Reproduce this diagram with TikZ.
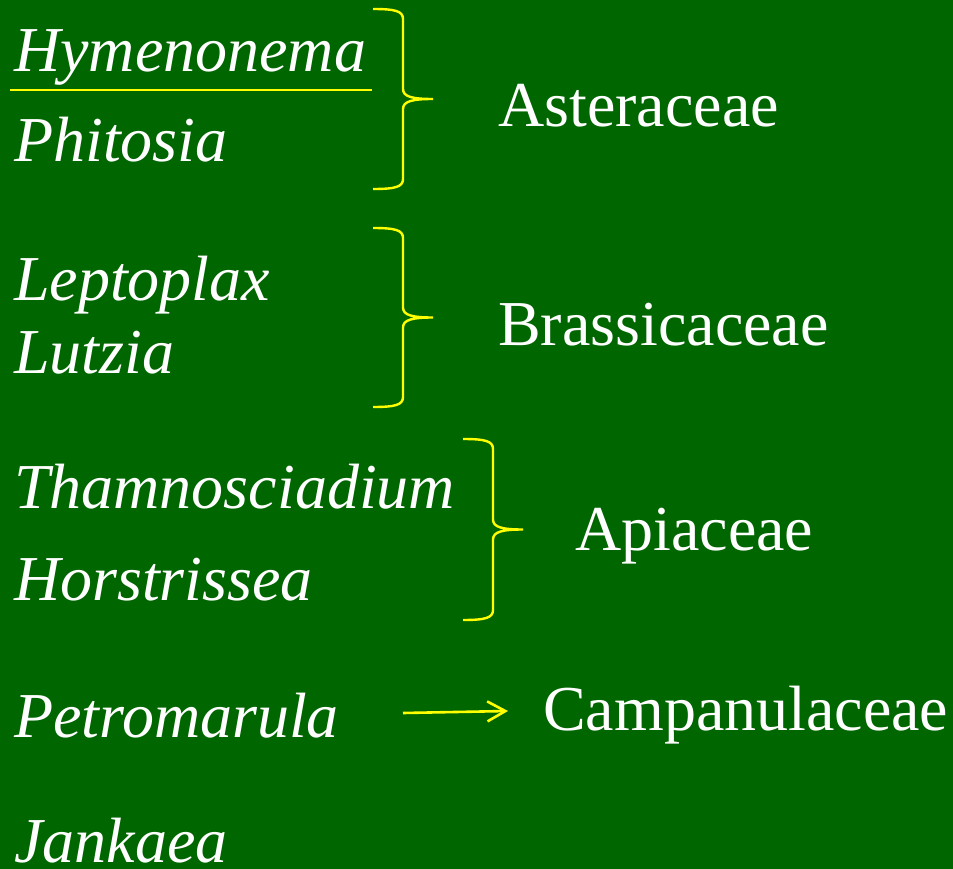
\documentclass[tikz,border=0pt]{standalone}
\usepackage{fontspec}
\setmainfont{Liberation Serif}
\usepackage{tikz}
\usetikzlibrary{arrows.meta}

\definecolor{slidegreen}{RGB}{0,102,0}
\definecolor{braceyellow}{RGB}{255,255,0}

% curly brace: left x, top y, bottom y
\newcommand{\famBrace}[3]{%
  \draw[brace] (#1,#2) .. controls ({#1+22},#2) and ({#1+30},{#2+2}) .. ({#1+30},{#2+10})
    -- ({#1+30},{(#2+#3)/2-10})
    .. controls ({#1+30},{(#2+#3)/2-2}) and ({#1+40},{(#2+#3)/2}) .. ({#1+60},{(#2+#3)/2})
    .. controls ({#1+40},{(#2+#3)/2}) and ({#1+30},{(#2+#3)/2+2}) .. ({#1+30},{(#2+#3)/2+10})
    -- ({#1+30},{#3-10})
    .. controls ({#1+30},{#3-2}) and ({#1+22},#3) .. (#1,#3);}

\begin{document}
\begin{tikzpicture}[
  x=1pt, y=-1pt,
  genus/.style={anchor=base west, inner sep=0pt, text=white,
                font=\fontsize{64}{76}\selectfont\itshape},
  family/.style={anchor=base west, inner sep=0pt, text=white,
                 font=\fontsize{64}{76}\selectfont},
  brace/.style={draw=braceyellow, line width=2.4pt},
  arr/.style={-{Straight Barb[length=18pt,width=20pt]}, draw=braceyellow, line width=2.6pt},
]
\fill[slidegreen] (0,0) rectangle (953,869);
\useasboundingbox (0,0) rectangle (953,869);

\node[genus] (hymen) at (14,72) {Hymenonema};
\node[genus] (phit) at (14,162) {Phitosia};
\node[genus] (lept) at (14,300) {Leptoplax};
\node[genus] (lutz) at (14,373) {Lutzia};
\node[genus] (tham) at (14,508) {Thamnosciadium};
\node[genus] (hors) at (14,600) {Horstrissea};
\node[genus] (petr) at (14,737) {Petromarula};
\node[genus] (jank) at (14,862) {Jankaea};

\node[family] (aster) at (498,127) {Asteraceae};
\node[family] (brass) at (498,345) {Brassicaceae};
\node[family] (apia) at (575,550) {Apiaceae};
\node[family] (campa) at (543,730) {Campanulaceae};

\draw[brace] (10,90) -- (372,90);

\famBrace{373}{9}{189}
\famBrace{373}{228}{407}
\famBrace{463}{439}{620}

\coordinate (petrTail) at (403,713);
\coordinate (campaHead) at (508,711);
\draw[arr] (petrTail) -- (campaHead);
\end{tikzpicture}
\end{document}
